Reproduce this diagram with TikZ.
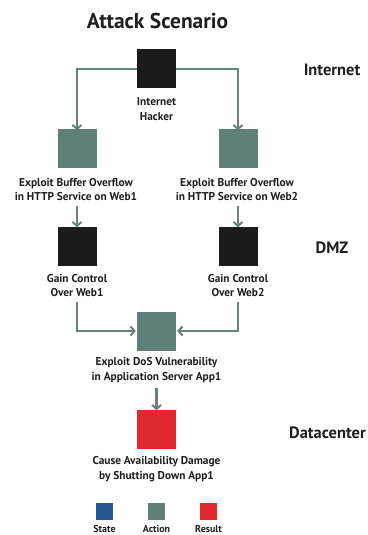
\documentclass[tikz,border=0pt]{standalone}
\usepackage{fontspec}
\setmainfont{PT Sans}
\usetikzlibrary{arrows.meta}
\definecolor{actioncol}{HTML}{5F8079}
\definecolor{statecol}{HTML}{1C1C1C}
\definecolor{resultcol}{HTML}{E0292E}
\definecolor{legendblue}{HTML}{235A94}
\definecolor{linecol}{HTML}{66837B}
\definecolor{textcol}{HTML}{1E1E1E}
\tikzset{
  box/.style={minimum size=39bp, inner sep=0pt, draw=none},
  statebox/.style={box, fill=statecol},
  actionbox/.style={box, fill=actioncol},
  resultbox/.style={box, fill=resultcol},
  caption/.style={align=center, font=\bfseries\fontsize{11.4}{15}\selectfont, text=textcol, inner sep=0pt},
  zone/.style={font=\bfseries\fontsize{16.5}{18}\selectfont, text=textcol, inner sep=0pt},
  legbox/.style={minimum size=17bp, inner sep=0pt},
  legtext/.style={font=\bfseries\fontsize{10}{11}\selectfont, text=textcol, inner sep=0pt},
  flow/.style={draw=linecol, line width=2.2bp, -{Straight Barb[length=4bp,width=9bp,line width=2bp]}},
}
\begin{document}
\begin{tikzpicture}[x=1bp, y=-1bp]
\useasboundingbox (0,0) rectangle (367,535);

% title and zone names
\node[font=\bfseries\fontsize{21.5}{24}\selectfont, text=textcol, inner sep=0pt] (title) at (157.5,21) {Attack Scenario};
\node[zone] (zinet) at (332,70) {Internet};
\node[zone] (zdmz) at (332,248) {DMZ};
\node[zone, anchor=east] (zdc) at (366,433) {Datacenter};

% attacker
\node[statebox] (hacker) at (156.5,69) {};
\node[caption] (hackertxt) at (156.5,109.5) {Internet\\Hacker};

% buffer overflow exploits
\node[actionbox] (act1) at (77,149) {};
\node[caption] (act1txt) at (76,189.5) {Exploit Buffer Overflow\\in HTTP Service on Web1};
\node[actionbox] (act2) at (238,149) {};
\node[caption] (act2txt) at (237,189.5) {Exploit Buffer Overflow\\in HTTP Service on Web2};

% gained control
\node[statebox] (gain1) at (77,246) {};
\node[caption] (gain1txt) at (77,285.5) {Gain Control\\Over Web1};
\node[statebox] (gain2) at (238,246) {};
\node[caption] (gain2txt) at (238,285.5) {Gain Control\\Over Web2};

% application server exploit
\node[actionbox] (app) at (156.5,331) {};
\node[caption] (apptxt) at (156.5,370.5) {Exploit DoS Vulnerability\\in Application Server App1};

% result
\node[resultbox] (res) at (156.5,429) {};
\node[caption] (restxt) at (156.5,469) {Cause Availability Damage\\by Shutting Down App1};

% legend
\node[legbox, fill=legendblue] (lstate) at (104.5,511.5) {};
\node[legtext] (lstatetxt) at (104.5,529) {State};
\node[legbox, fill=actioncol] (laction) at (156.5,511.5) {};
\node[legtext] (lactiontxt) at (156.5,529) {Action};
\node[legbox, fill=resultcol] (lresult) at (208.5,511.5) {};
\node[legtext] (lresulttxt) at (208.5,529) {Result};

% connectors
\draw[flow] (hacker.west) -| ([yshift=-1bp]act1.north);
\draw[flow] (hacker.east) -| ([yshift=-1bp]act2.north);
\draw[flow] ([yshift=-5bp]act1txt.south -| act1) -- ([yshift=-1bp]gain1.north);
\draw[flow] ([yshift=-5bp]act2txt.south -| act2) -- ([yshift=-1bp]gain2.north);
\draw[flow] ([yshift=-5bp]gain1txt.south -| gain1) |- ([xshift=-1bp]app.west);
\draw[flow] ([yshift=-5bp]gain2txt.south -| gain2) |- ([xshift=1bp]app.east);
\draw[flow] ([yshift=-5bp]apptxt.south -| app) -- ([yshift=-1bp]res.north);
\end{tikzpicture}
\end{document}
